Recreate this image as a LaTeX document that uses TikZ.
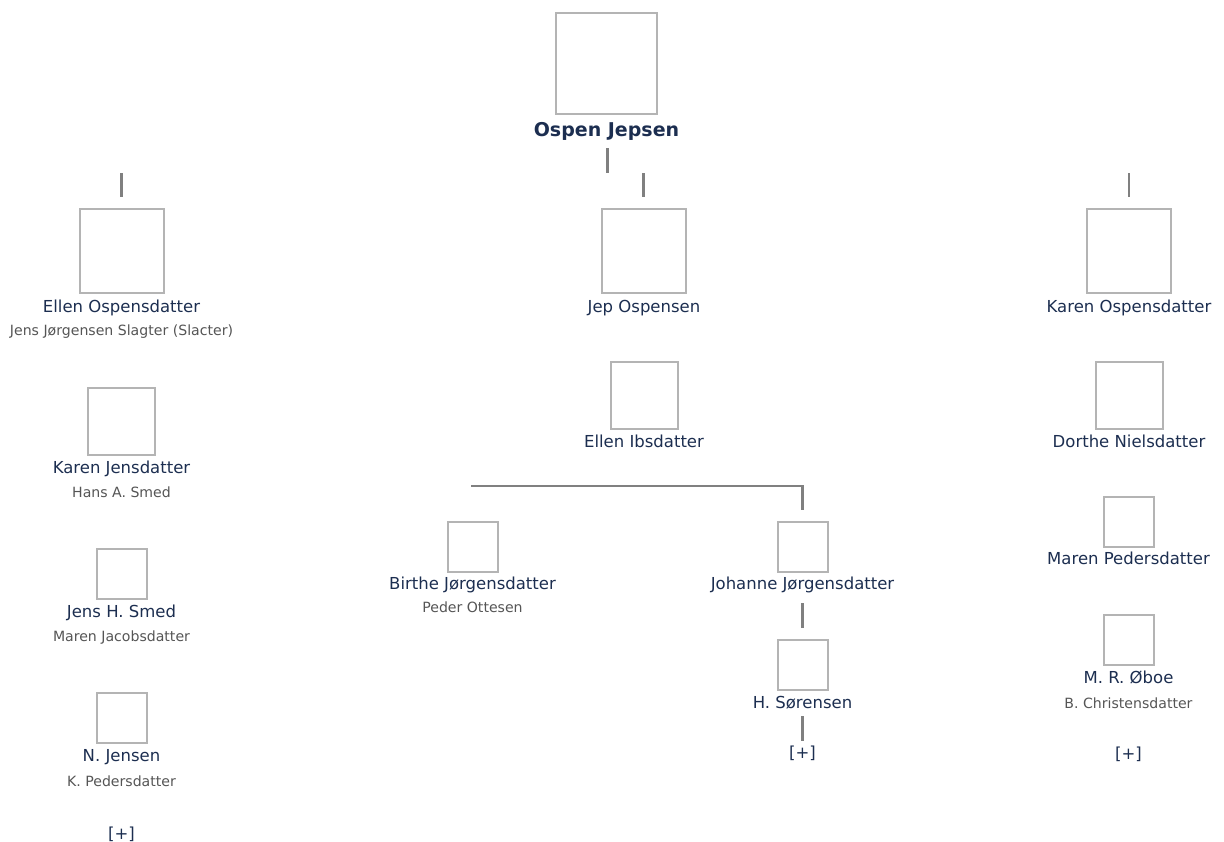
\documentclass[tikz,border=0pt]{standalone}
\usepackage{fontspec}
\setmainfont{DejaVu Sans}
\newfontfamily\spousefont{DejaVu Sans}
\definecolor{navy}{HTML}{1C2E50}
\definecolor{boxgray}{HTML}{B4B4B4}
\definecolor{linegray}{HTML}{808080}
\definecolor{spgray}{HTML}{555555}
\begin{document}
\begin{tikzpicture}[x=1pt,y=-1pt,
  pbox/.style={draw=boxgray,line width=2pt,fill=white,inner sep=0pt,minimum size=#1},
  pname/.style={anchor=base,text=navy,inner sep=0pt,font=\fontsize{16.5}{18}\selectfont},
  rootname/.style={anchor=base,text=navy,inner sep=0pt,font=\fontsize{19}{21}\selectfont\bfseries},
  spouse/.style={anchor=base,text=spgray,inner sep=0pt,font=\spousefont\fontsize{14.1}{16}\selectfont},
  conn/.style={draw=linegray,line width=2.4pt}]
\useasboundingbox (0,0) rectangle (1224,841);
% root
\node[pbox=101pt] (ospen) at (606.5,63.5) {};
\node[rootname] (ospenN) at (606.5,136) {Ospen Jepsen};
\coordinate (r1) at (607.5,148);
\coordinate (r2) at (607.5,173);
\coordinate (r3) at (643.5,173);
\coordinate (r4) at (643.5,197);
\draw[conn] (r1) -- (r2);
\draw[conn] (r3) -- (r4);
% left column
\coordinate (l1) at (121.5,173);
\coordinate (l2) at (121.5,197);
\draw[conn] (l1) -- (l2);
\node[pbox=84pt] (ellen) at (121.5,250.5) {};
\node[pname] (ellenN) at (121.5,312) {Ellen Ospensdatter};
\node[spouse] (ellenS) at (121.5,335) {Jens Jørgensen Slagter (Slacter)};
\node[pbox=67pt] (karenj) at (121,421) {};
\node[pname] (karenjN) at (121.5,473) {Karen Jensdatter};
\node[spouse] (karenjS) at (121.5,497) {Hans A. Smed};
\node[pbox=50pt] (jensh) at (121.5,573.5) {};
\node[pname] (jenshN) at (121.5,617) {Jens H. Smed};
\node[spouse] (jenshS) at (121.5,641) {Maren Jacobsdatter};
\node[pbox=50pt] (nj) at (121.5,717.5) {};
\node[pname] (njN) at (121.5,761) {N. Jensen};
\node[spouse] (njS) at (121.5,786) {K. Pedersdatter};
\node[pname] (njP) at (121.5,839) {[+]};
% middle column
\node[pbox=84pt] (jep) at (644,250.5) {};
\node[pname] (jepN) at (644,312) {Jep Ospensen};
\node[pbox=67pt] (ellenI) at (644,395) {};
\node[pname] (ellenIN) at (644,447) {Ellen Ibsdatter};
\coordinate (m1) at (471,486);
\coordinate (m2) at (802.5,486);
\coordinate (m3) at (802.5,510);
\draw[conn] (m1) -- (m2) -- (m3);
\node[pbox=50pt] (birthe) at (472.5,546.5) {};
\node[pname] (birtheN) at (472.5,589) {Birthe Jørgensdatter};
\node[spouse] (birtheS) at (472.5,612) {Peder Ottesen};
\node[pbox=50pt] (johanne) at (802.5,546.5) {};
\node[pname] (johanneN) at (802.5,589) {Johanne Jørgensdatter};
\coordinate (j1) at (802.5,603);
\coordinate (j2) at (802.5,628);
\draw[conn] (j1) -- (j2);
\node[pbox=50pt] (hs) at (802.5,664.5) {};
\node[pname] (hsN) at (802.5,708) {H. Sørensen};
\coordinate (h1) at (802.5,716);
\coordinate (h2) at (802.5,741);
\draw[conn] (h1) -- (h2);
\node[pname] (hsP) at (802.5,758) {[+]};
% right column
\coordinate (k1) at (1129,173);
\coordinate (k2) at (1129,197);
\draw[conn] (k1) -- (k2);
\node[pbox=84pt] (karen) at (1129,250.5) {};
\node[pname] (karenN) at (1129,312) {Karen Ospensdatter};
\node[pbox=67pt] (dorthe) at (1129,395) {};
\node[pname] (dortheN) at (1129,447) {Dorthe Nielsdatter};
\node[pbox=50pt] (maren) at (1128.5,521.5) {};
\node[pname] (marenN) at (1128.5,564) {Maren Pedersdatter};
\node[pbox=50pt] (mro) at (1128.5,639.5) {};
\node[pname] (mroN) at (1128.5,683) {M. R. Øboe};
\node[spouse] (mroS) at (1128.5,708) {B. Christensdatter};
\node[pname] (mroP) at (1128.5,759) {[+]};
\end{tikzpicture}
\end{document}
